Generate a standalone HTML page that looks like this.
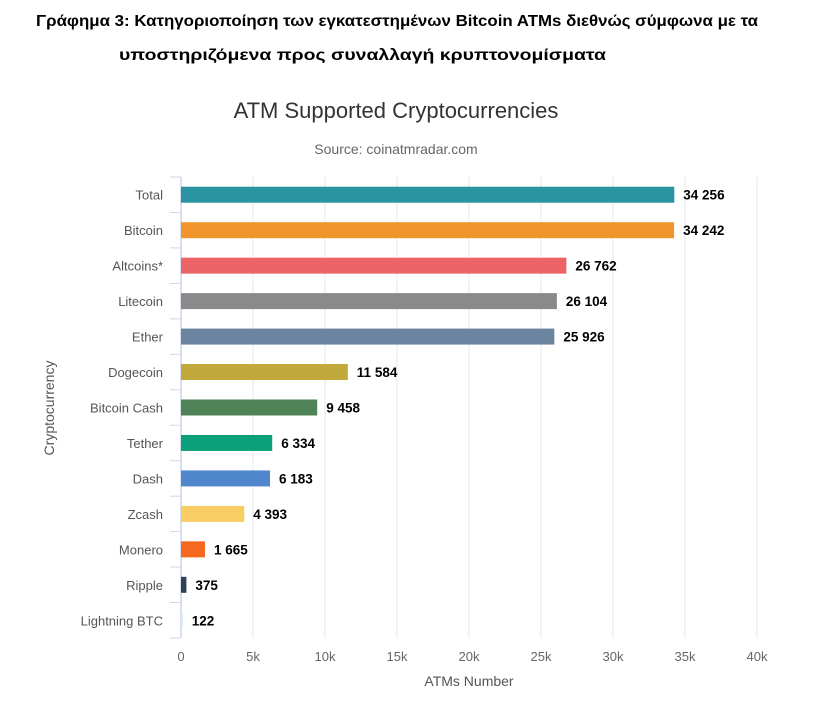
<!DOCTYPE html>
<html><head><meta charset="utf-8"><style>
body{margin:0;background:#fff;width:821px;height:714px;overflow:hidden}
svg{display:block;font-family:"Liberation Sans","DejaVu Sans",sans-serif}
</style></head><body>
<svg id="c" width="821" height="714">
<text x="36" y="26" font-size="15.5" font-weight="bold" fill="#000" textLength="722" lengthAdjust="spacingAndGlyphs">Γράφημα 3: Κατηγοριοποίηση  των εγκατεστημένων Bitcoin ATMs διεθνώς σύμφωνα με τα</text>
<text x="119" y="60" font-size="15.5" font-weight="bold" fill="#000" textLength="487" lengthAdjust="spacingAndGlyphs">υποστηριζόμενα προς συναλλαγή κρυπτονομίσματα</text>
<text x="396" y="118" font-size="22" fill="#333" text-anchor="middle">ATM Supported Cryptocurrencies</text>
<text x="396" y="154" font-size="14" fill="#666" text-anchor="middle">Source: coinatmradar.com</text>
<text transform="translate(54,408) rotate(-90)" font-size="14" fill="#555" text-anchor="middle">Cryptocurrency</text>
<text x="469" y="686" font-size="14" fill="#555" text-anchor="middle">ATMs Number</text>
<g id="grid"></g><g id="bars"></g>
</svg>
<script>
const categories=["Total","Bitcoin","Altcoins*","Litecoin","Ether","Dogecoin","Bitcoin Cash","Tether","Dash","Zcash","Monero","Ripple","Lightning BTC"];
const values=[34256,34242,26762,26104,25926,11584,9458,6334,6183,4393,1665,375,122];
const labels=["34 256","34 242","26 762","26 104","25 926","11 584","9 458","6 334","6 183","4 393","1 665","375","122"];
const colors=["#2a93a0","#ef952c","#ec6468","#8a8a8a","#6b84a0","#c0a83a","#4f8256","#0ca07a","#4f86cc","#f8cd63","#f4681f","#2f4159","#d6e9f5"];
const ticks=[0,5000,10000,15000,20000,25000,30000,35000,40000];
const tickLabels=["0","5k","10k","15k","20k","25k","30k","35k","40k"];
const ns="http://www.w3.org/2000/svg";
const x0=181,x1=757,xmax=40000,plotTop=177,plotBot=638;
const xs=v=>x0+v/xmax*(x1-x0);
const band=(plotBot-plotTop)/categories.length;
const g=document.getElementById('grid'),b=document.getElementById('bars');
function mk(t,a,p){const e=document.createElementNS(ns,t);for(const k in a)e.setAttribute(k,a[k]);p.appendChild(e);return e;}
ticks.forEach((t,i)=>{
 const l=mk('line',{x1:xs(t),x2:xs(t),y1:plotTop,y2:plotBot,stroke:'#e3e7ee','stroke-width':1},g);
 
 
 const tx=mk('text',{x:xs(t),y:661,'font-size':13,fill:'#666','text-anchor':'middle'},g);
 tx.textContent=tickLabels[i];
 
 
});
const ax=mk('line',{x1:x0,x2:x0,y1:plotTop,y2:plotBot,stroke:'#ccd6eb','stroke-width':1.5},g);


for(let i=0;i<=categories.length;i++){
 const tk=mk('line',{x1:170,x2:x0,y1:plotTop+i*band,y2:plotTop+i*band,stroke:'#ccd6eb','stroke-width':1},g);
 
 
}
categories.forEach((c,i)=>{
 const cy=plotTop+band*(i+0.5);
 const lt=mk('text',{x:163,y:cy+5,'font-size':13,fill:'#555','text-anchor':'end'},b);
 lt.textContent=c;
 
 
 const w=Math.max(xs(values[i])-x0,0.5);
 const r=mk('rect',{x:x0,y:cy-8,width:w,height:16,fill:colors[i]},b);
 
 
 const vt=mk('text',{x:xs(values[i])+9,y:cy+5,'font-size':13.5,'font-weight':'bold',fill:'#000'},b);
 vt.textContent=labels[i];
 
 
});
</script>
</body></html>
